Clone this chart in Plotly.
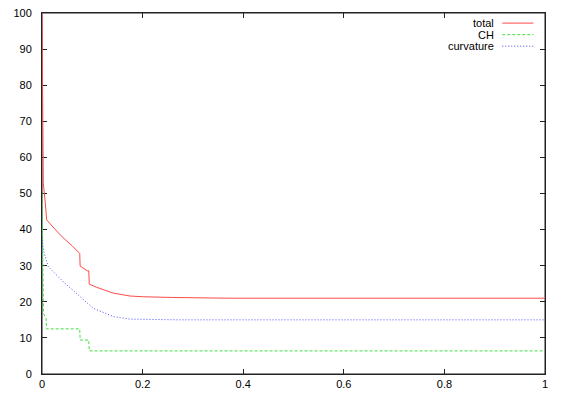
import plotly.graph_objects as go

# total
total_x = [0, 0.0015, 0.0026, 0.006, 0.0093, 0.02, 0.04, 0.06, 0.075, 0.0758, 0.09, 0.093, 0.094,
           0.109, 0.142, 0.175, 0.201, 0.26, 0.37, 1.0]
total_y = [100, 60, 52.8, 48.2, 42.7, 41.0, 38.0, 35.5, 33.4, 29.9, 28.6, 28.6, 24.9,
           24.0, 22.4, 21.6, 21.4, 21.2, 21.0, 21.0]

# CH
ch_x = [0, 0.002, 0.003, 0.008, 0.0093, 0.075, 0.0758, 0.093, 0.094, 1.0]
ch_y = [50, 30, 16.8, 15.4, 12.5, 12.5, 9.4, 9.4, 6.4, 6.4]

# curvature
curv_x = [0, 0.002, 0.0046, 0.0126, 0.042, 0.0755, 0.102, 0.142, 0.175, 0.274, 1.0]
curv_y = [38, 35, 33.4, 29.7, 25.6, 21.4, 18.2, 15.9, 15.2, 15.0, 15.0]

x_ticks = [0, 0.2, 0.4, 0.6, 0.8, 1]
x_ticktext = ["0", "0.2", "0.4", "0.6", "0.8", "1"]

series = [
    ("total", total_x, total_y, "#ff4a4a", "solid"),
    ("CH", ch_x, ch_y, "#40e040", "3px,2px"),
    ("curvature", curv_x, curv_y, "#4a4aff", "1px,2px"),
]

font = dict(family="Liberation Sans, Arial, sans-serif", size=11, color="#000000")
frame = "#222222"

fig = go.Figure()
for name, xs, ys, col, dash in series:
    fig.add_trace(go.Scatter(x=xs, y=ys, mode="lines", name=name,
                             line=dict(color=col, width=1, dash=dash)))
# empty trace so the top (mirror) axis gets drawn
fig.add_trace(go.Scatter(x=[], y=[], xaxis="x2", showlegend=False))

axis_style = dict(showline=True, linecolor=frame, linewidth=1, layer="below traces",
                  ticks="inside", ticklen=5, tickcolor=frame, showgrid=False,
                  zeroline=False, tickfont=font, automargin=False, ticklabeloverflow="allow")

fig.update_layout(
    xaxis=dict(range=[0, 1], tickvals=x_ticks, ticktext=x_ticktext, **axis_style),
    xaxis2=dict(range=[0, 1], tickvals=x_ticks, overlaying="x", side="top", anchor="y",
                showticklabels=False, **axis_style),
    yaxis=dict(range=[0, 100], dtick=10, ticklabelstandoff=7, mirror="ticks", **axis_style),
)

# frame drawn under the curves; gnuplot-style key: text right aligned, sample on the right
shapes = [dict(type="rect", xref="x domain", yref="y domain", x0=0, x1=1, y0=0, y1=1,
               line=dict(color=frame, width=1), layer="below")]
annotations = []
for i, (name, xs, ys, col, dash) in enumerate(series):
    yk = 0.972 - i * 0.032
    annotations.append(dict(xref="paper", yref="paper", x=0.902, y=yk, xanchor="right",
                            yanchor="middle", text=name, showarrow=False, font=font))
    shapes.append(dict(type="line", xref="paper", yref="paper", x0=0.915, x1=0.977,
                       y0=yk, y1=yk, line=dict(color=col, width=1, dash=dash)))

fig.update_layout(
    width=565, height=396,
    margin=dict(l=42, r=20, t=13, b=22),
    plot_bgcolor="white", paper_bgcolor="white",
    showlegend=False,
    shapes=shapes, annotations=annotations,
    font=font,
)

# drop the default page margin so the figure sits at the window corner
fig.write_html("out.html", config={"displayModeBar": False},
               post_script="document.body.style.margin='0';")
